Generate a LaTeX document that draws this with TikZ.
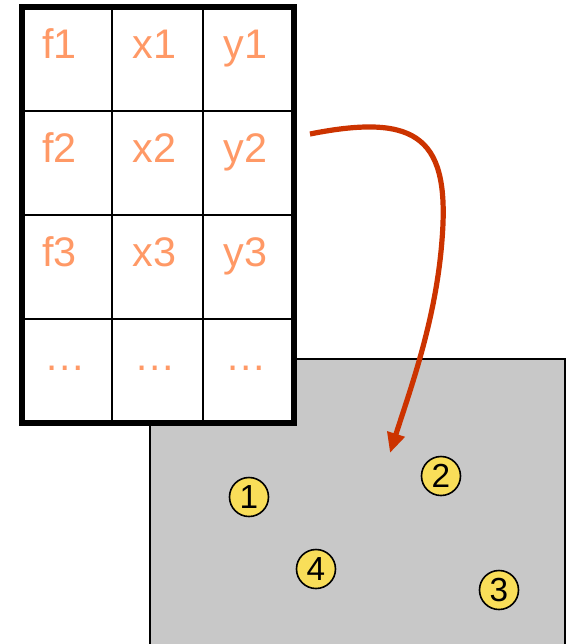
\documentclass[tikz,border=0pt]{standalone}
\usepackage{fontspec}
\setmainfont{Liberation Sans}
\usetikzlibrary{arrows.meta}

\definecolor{cellorange}{RGB}{255,153,102}
\definecolor{dotyellow}{RGB}{249,222,89}
\definecolor{arrowred}{RGB}{204,51,0}
\definecolor{areagray}{RGB}{200,200,200}

\tikzset{every picture/.style={line width=0.75pt}}
\tikzset{
  celltext/.style={anchor=base west,inner sep=0pt,text=cellorange,font=\fontsize{31}{31}\selectfont},
  pointdot/.style={circle,draw,line width=1.2pt,fill=dotyellow,minimum size=29.25pt,inner sep=0pt,font=\fontsize{25}{25}\selectfont}
}

\begin{document}
\begin{tikzpicture}[x=0.75pt,y=0.75pt,yscale=-1,xscale=1]
        \useasboundingbox (0,0) rectangle (569,644);

        %Shape: Rectangle [id:area]
        \draw  [fill=areagray,line width=1.5] (150,359) rectangle (565,660) ;

        %Shape: Table [id:table]
        \fill  [white] (22,7) rectangle (294,423) ;
        %Straight Lines [id:cols]
        \draw  [line width=1.5] (112,7) -- (112,423) (203,7) -- (203,423) ;
        %Straight Lines [id:rows]
        \draw  [line width=1.5] (22,111) -- (294,111) (22,215) -- (294,215) (22,319) -- (294,319) ;
        %Shape: Rectangle [id:border]
        \draw  [line width=4.5] (22,7) rectangle (294,423) ;

        % Text Node
        \node [celltext] (f1) at (42,58) {f1};
        \node [celltext] (x1) at (132,58) {x1};
        \node [celltext] (y1) at (223,58) {y1};
        % Text Node
        \node [celltext] (f2) at (42,162) {f2};
        \node [celltext] (x2) at (132,162) {x2};
        \node [celltext] (y2) at (223,162) {y2};
        % Text Node
        \node [celltext] (f3) at (42,266) {f3};
        \node [celltext] (x3) at (132,266) {x3};
        \node [celltext] (y3) at (223,266) {y3};
        % Text Node
        \node [celltext] (fdots) at (44,370) {…};
        \node [celltext] (xdots) at (134,370) {…};
        \node [celltext] (ydots) at (225,370) {…};

        %Shape: Circle [id:points]
        \node [pointdot] (p1) at (249,497) {1};
        \node [pointdot] (p2) at (441,476) {2};
        \node [pointdot] (p3) at (499,590) {3};
        \node [pointdot] (p4) at (316,569) {4};

        %Curve Lines [id:lookup]
        \coordinate (src) at (310,134);
        \coordinate (dst) at (390,453);
        \draw  [arrowred,line width=3.9,-{Triangle[length=15pt,width=13pt]}] (src) .. controls (420,112) and (450,140) .. (442,240) .. controls (436,320) and (410,390) .. (dst) ;

\end{tikzpicture}
\end{document}
